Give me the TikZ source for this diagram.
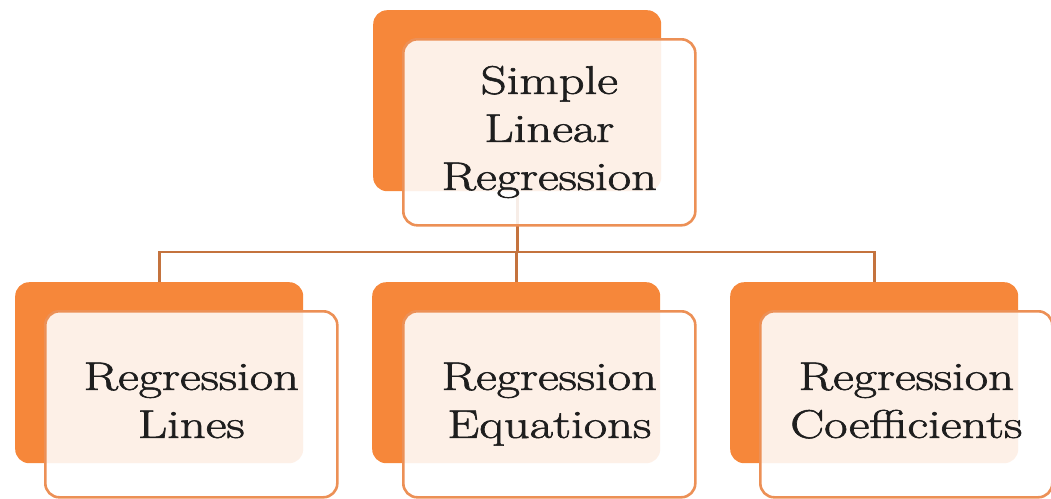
\documentclass[tikz,border=0pt]{standalone}
\usepackage{graphicx}
\definecolor{orangeback}{HTML}{F6873A}
\definecolor{frontedge}{HTML}{EC9056}
\definecolor{connline}{HTML}{C4733E}
\definecolor{textcol}{HTML}{1E1E1E}
\newcommand{\widetext}[1]{\special{pdf:literal 2 Tr 0.55 w}\raisebox{-4pt}{\scalebox{1.27}[1]{\begin{tabular}{@{}c@{}}#1\end{tabular}}}\special{pdf:literal 0 Tr}}
\begin{document}
\begin{tikzpicture}[x=1pt,y=-1pt,
  backbox/.style={rectangle, rounded corners=14pt, fill=orangeback, draw=none,
    minimum width=288pt, minimum height=181pt, inner sep=0pt, anchor=north west},
  frontbox/.style={rectangle, rounded corners=14pt, draw=frontedge, line width=2.6pt,
    fill=white, fill opacity=0.88, text opacity=1, text=textcol,
    minimum width=292pt, minimum height=186pt, inner sep=0pt, anchor=north west,
    font=\fontsize{40}{48}\selectfont},
  conn/.style={draw=connline, line width=2.8pt}]
\useasboundingbox (0,0) rectangle (1051,498);
% back boxes
\node[backbox] (topb) at (373,10) {};
\node[backbox] (lb) at (15,282) {};
\node[backbox] (mb) at (372,282) {};
\node[backbox] (rb) at (730,282) {};
% connectors
\coordinate (bus) at (516,252);
\draw[conn] (topb.south) -- (topb.south |- bus);
\draw[conn] (lb.north) -- (lb.north |- bus) -- (rb.north |- bus) -- (rb.north);
\draw[conn] (mb.north) -- (mb.north |- bus);
% front boxes
\node[frontbox] (topf) at (402,38) {\widetext{Simple\\Linear\\Regression}};
\node[frontbox] (lf) at (44,310) {\widetext{Regression\\Lines}};
\node[frontbox] (mf) at (402,310) {\widetext{Regression\\Equations}};
\node[frontbox] (rf) at (759,310) {\widetext{Regression\\Coefficients}};
\end{tikzpicture}
\end{document}
